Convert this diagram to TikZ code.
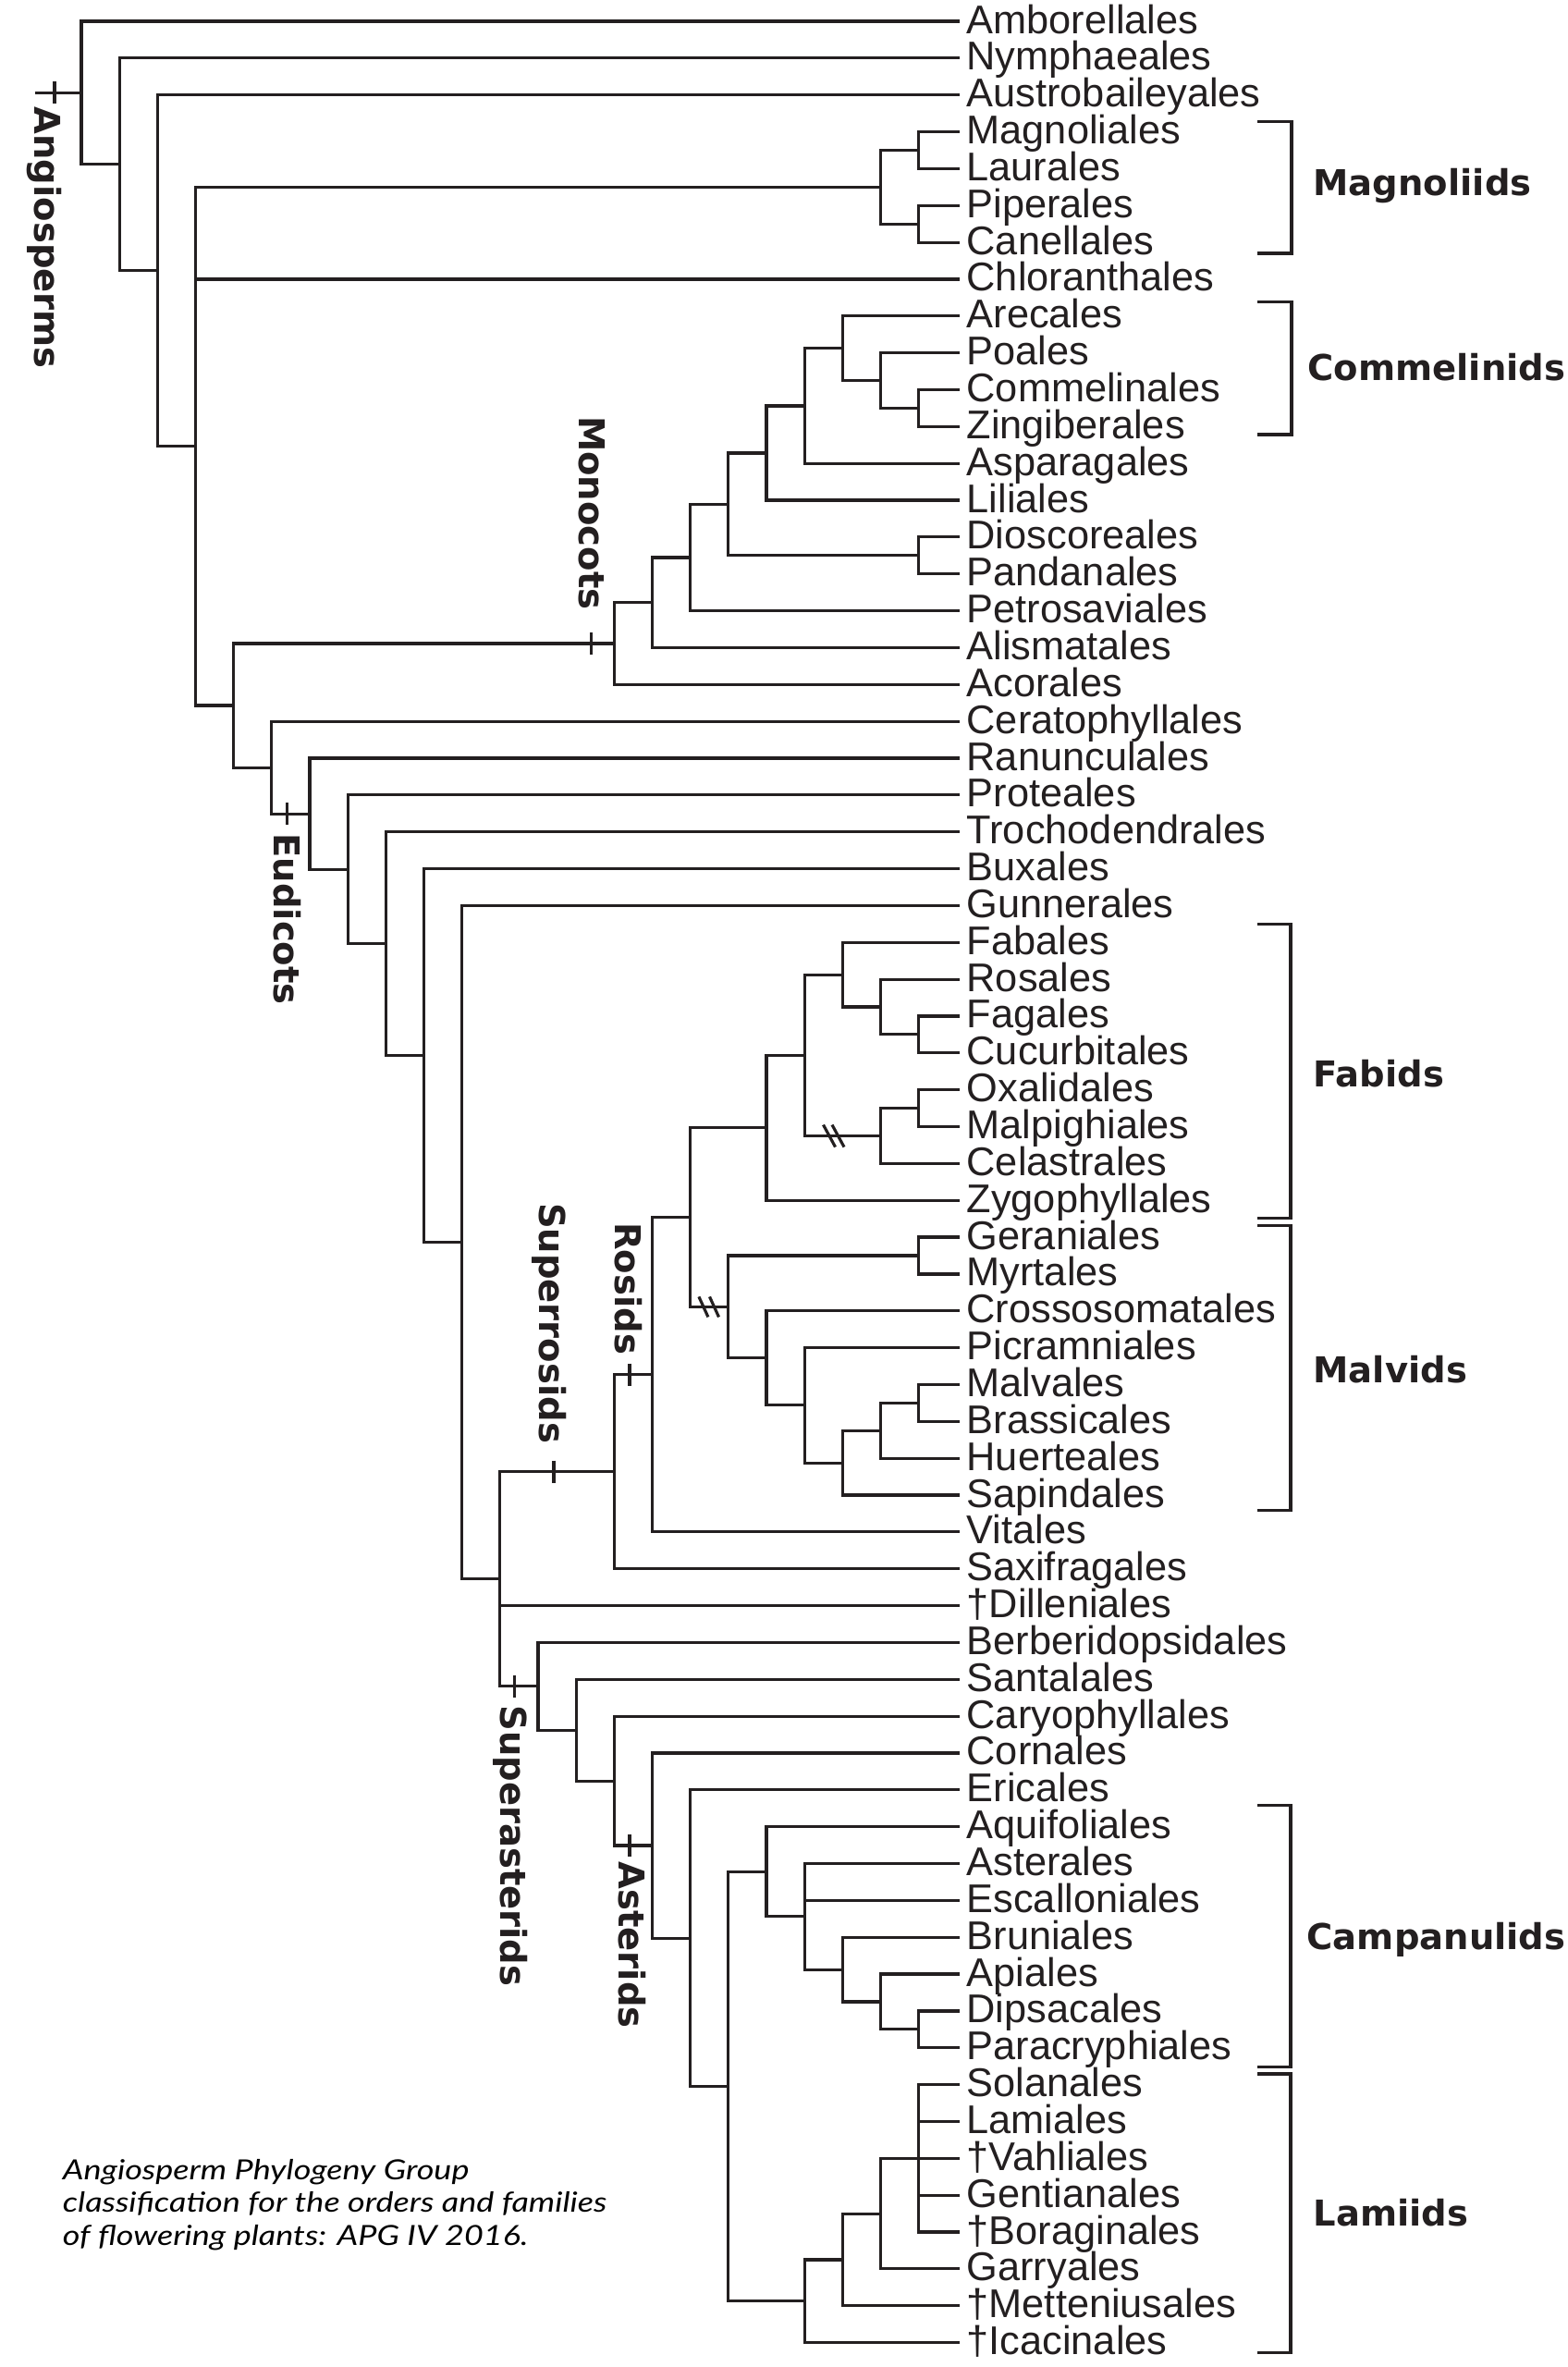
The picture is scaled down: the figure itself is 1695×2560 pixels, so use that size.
\documentclass[tikz,border=0pt]{standalone}
\usepackage{fontspec}
\newfontfamily\leaffont{Liberation Sans}
\newfontfamily\cladefont{DejaVu Sans}
\newfontfamily\capfont{Lato}
\definecolor{ink}{HTML}{231F20}
\tikzset{
 tree/.style={draw=ink, line width=0.95pt},
 leaf/.style={anchor=west, inner xsep=2.1pt, inner ysep=0pt, text height=9.3pt, text depth=1.5pt, font=\leaffont\fontsize{13}{15}\selectfont, text=ink},
 clade/.style={inner sep=0pt, text height=8.42pt, text depth=0pt, font=\cladefont\bfseries\fontsize{11.55}{13}\selectfont, text=ink},
 rotclade/.style={clade, rotate=-90},
 tickmark/.style={draw=ink, line width=0.95pt},
 bracketline/.style={draw=ink, line width=1pt},
 hashmark/.style={draw=ink, line width=0.95pt},
 captext/.style={anchor=base west, inner sep=0pt, xscale=1.2, font=\capfont\itshape\fontsize{9}{10}\selectfont, text=black},
}
\begin{document}
\begin{tikzpicture}[x=0.3pt, y=-0.3pt]
\fill[white] (0,0) rectangle (1695,2560);
\useasboundingbox (0,0) rectangle (1695,2560);

% leaves
\foreach \nm [count=\i from 0] in {Amborellales, Nymphaeales, Austrobaileyales, Magnoliales, Laurales, Piperales, Canellales, Chloranthales, Arecales, Poales, Commelinales, Zingiberales, Asparagales, Liliales, Dioscoreales, Pandanales, Petrosaviales, Alismatales, Acorales, Ceratophyllales, Ranunculales, Proteales, Trochodendrales, Buxales, Gunnerales, Fabales, Rosales, Fagales, Cucurbitales, Oxalidales, Malpighiales, Celastrales, Zygophyllales, Geraniales, Myrtales, Crossosomatales, Picramniales, Malvales, Brassicales, Huerteales, Sapindales, Vitales, Saxifragales, †Dilleniales, Berberidopsidales, Santalales, Caryophyllales, Cornales, Ericales, Aquifoliales, Asterales, Escalloniales, Bruniales, Apiales, Dipsacales, Paracryphiales, Solanales, Lamiales, †Vahliales, Gentianales, †Boraginales, Garryales, †Metteniusales, †Icacinales}
  \node[leaf] (l\i) at (1038,{23+39.85*\i}) {\nm};

% internal nodes
\coordinate (rootstem) at (37.5,100.39);
\coordinate (n0) at (88,100.39);
\coordinate (n1) at (129.17,177.775);
\coordinate (n2) at (170.34,292.7);
\coordinate (n3) at (211.51,482.70);
\coordinate (mag) at (952.57,202.325);
\coordinate (mA) at (993.74,162.475);
\coordinate (mB) at (993.74,242.175);
\coordinate (n4) at (252.68,763.07);
\coordinate (mono) at (664.38,696.014);
\coordinate (mo15) at (705.55,651.727);
\coordinate (mo16) at (746.72,603.004);
\coordinate (mo17) at (787.89,545.409);
\coordinate (dp) at (993.74,600.825);
\coordinate (mo18) at (829.06,489.992);
\coordinate (mo19) at (870.23,438.934);
\coordinate (com) at (911.4,376.669);
\coordinate (cP) at (952.57,411.538);
\coordinate (cZ) at (993.74,441.425);
\coordinate (n5) at (293.85,830.135);
\coordinate (n6) at (335.02,880.12);
\coordinate (n7) at (376.19,940.24);
\coordinate (n8) at (417.36,1020.63);
\coordinate (n9) at (458.53,1141.56);
\coordinate (n10) at (499.7,1343.57);
\coordinate (n11) at (540.87,1707.74);
\coordinate (srs) at (664.38,1591.705);
\coordinate (ros) at (705.55,1486.709);
\coordinate (r16) at (746.72,1316.568);
\coordinate (fab) at (829.06,1219.745);
\coordinate (f19) at (870.23,1141.291);
\coordinate (fF) at (911.4,1054.119);
\coordinate (fR) at (952.57,1088.988);
\coordinate (fFC) at (993.74,1118.875);
\coordinate (com2) at (952.57,1228.463);
\coordinate (fOM) at (993.74,1198.575);
\coordinate (mal) at (787.89,1413.392);
\coordinate (mGM) at (993.74,1357.975);
\coordinate (m18) at (829.06,1468.808);
\coordinate (m19) at (870.23,1519.866);
\coordinate (m20) at (911.4,1582.131);
\coordinate (m21) at (952.57,1547.263);
\coordinate (mMB) at (993.74,1517.375);
\coordinate (sas) at (582.04,1823.78);
\coordinate (a13) at (623.21,1871.16);
\coordinate (a14) at (664.38,1926.071);
\coordinate (ast) at (705.55,1996.042);
\coordinate (a16) at (746.72,2096.134);
\coordinate (a17) at (787.89,2256.468);
\coordinate (camp) at (829.06,2024.217);
\coordinate (c19) at (870.23,2072.784);
\coordinate (c20) at (911.4,2130.069);
\coordinate (c21) at (952.57,2164.938);
\coordinate (cDP) at (993.74,2194.825);
\coordinate (lam) at (870.23,2488.719);
\coordinate (la20) at (911.4,2443.888);
\coordinate (la21) at (952.57,2394.075);
\coordinate (la22) at (993.74,2334.3);

% branches
\draw[tree] (rootstem) -- (n0);
\foreach \p/\c in {n0/l0.west, n0/n1, n1/l1.west, n1/n2, n2/l2.west, n2/n3,
  n3/mag, n3/l7.west, n3/n4, mag/mA, mag/mB, mA/l3.west, mA/l4.west, mB/l5.west, mB/l6.west,
  n4/mono, n4/n5, mono/mo15, mono/l18.west, mo15/mo16, mo15/l17.west, mo16/mo17, mo16/l16.west,
  mo17/mo18, mo17/dp, dp/l14.west, dp/l15.west, mo18/mo19, mo18/l13.west, mo19/com, mo19/l12.west,
  com/l8.west, com/cP, cP/l9.west, cP/cZ, cZ/l10.west, cZ/l11.west,
  n5/l19.west, n5/n6, n6/l20.west, n6/n7, n7/l21.west, n7/n8, n8/l22.west, n8/n9,
  n9/l23.west, n9/n10, n10/l24.west, n10/n11,
  n11/srs, n11/l43.west, n11/sas, srs/ros, srs/l42.west, ros/r16, ros/l41.west, r16/fab, r16/mal,
  fab/f19, fab/l32.west, f19/fF, f19/com2, fF/l25.west, fF/fR, fR/l26.west, fR/fFC,
  fFC/l27.west, fFC/l28.west, com2/fOM, com2/l31.west, fOM/l29.west, fOM/l30.west,
  mal/mGM, mal/m18, mGM/l33.west, mGM/l34.west, m18/l35.west, m18/m19, m19/l36.west, m19/m20,
  m20/m21, m20/l40.west, m21/mMB, m21/l39.west, mMB/l37.west, mMB/l38.west,
  sas/l44.west, sas/a13, a13/l45.west, a13/a14, a14/l46.west, a14/ast, ast/l47.west, ast/a16,
  a16/l48.west, a16/a17, a17/camp, a17/lam, camp/l49.west, camp/c19,
  c19/l50.west, c19/l51.west, c19/c20, c20/l52.west, c20/c21, c21/l53.west, c21/cDP,
  cDP/l54.west, cDP/l55.west, lam/la20, lam/l63.west, la20/la21, la20/l62.west,
  la21/la22, la21/l61.west, la22/l56.west, la22/l57.west, la22/l58.west, la22/l59.west, la22/l60.west}
  \draw[tree] (\p) |- (\c);

% ticks
\draw[tickmark] (59,88.4) -- (59,112.4);
\draw[tickmark] (310.7,868.1) -- (310.7,892.1);
\draw[tickmark] (639.3,684) -- (639.3,708);
\draw[tickmark] (681,1474.7) -- (681,1498.7);
\draw[tickmark] (599,1579.7) -- (599,1603.7);
\draw[tickmark] (556.6,1811.8) -- (556.6,1835.8);
\draw[tickmark] (681,1984) -- (681,2008);

% hash marks
\draw[hashmark] (890.5,1216.5) -- (903.5,1240.5);
\draw[hashmark] (900,1216.5) -- (913,1240.5);
\draw[hashmark] (755.9,1402.4) -- (765.9,1424.4);
\draw[hashmark] (767.5,1402.4) -- (777.5,1424.4);

% rotated clade labels
\node[rotclade, anchor=west] (tAng) at (51.5,115) {Angiosperms};
\node[rotclade, anchor=west] (tEud) at (310.5,901) {Eudicots};
\node[rotclade, anchor=west] (tSast) at (556,1843.7) {Superasterids};
\node[rotclade, anchor=west] (tAst) at (683.4,2013) {Asterids};
\node[rotclade, anchor=east] (tMon) at (640.8,660) {Monocots};
\node[rotclade, anchor=east] (tRos) at (679.5,1465.6) {Rosids};
\node[rotclade, anchor=east] (tSros) at (597.3,1561.6) {Superrosids};

% brackets
\draw[bracketline] (1360,131.7) -| (1397,274) -- (1360,274);
\draw[bracketline] (1360,326.7) -| (1397,470) -- (1360,470);
\draw[bracketline] (1360,999.6) -| (1396,1317.3) -- (1360,1317.3);
\draw[bracketline] (1360,1325.6) -| (1396,1633.2) -- (1360,1633.2);
\draw[bracketline] (1360,1952.6) -| (1396,2235.4) -- (1360,2235.4);
\draw[bracketline] (1360,2243) -| (1396,2544.8) -- (1360,2544.8);

\node[clade, anchor=west] (tMag) at (1420,197.5) {Magnoliids};
\node[clade, anchor=west] (tCom) at (1414,397.5) {Commelinids};
\node[clade, anchor=west] (tFab) at (1420,1161.7) {Fabids};
\node[clade, anchor=west] (tMal) at (1420,1481.7) {Malvids};
\node[clade, anchor=west] (tCam) at (1413,2094.5) {Campanulids};
\node[clade, anchor=west] (tLam) at (1420,2393.5) {Lamiids};

% caption
\node[captext] (cap1) at (67,2357) {Angiosperm Phylogeny Group};
\node[captext] (cap2) at (67,2392.5) {classification for the orders and families};
\node[captext] (cap3) at (67,2428) {of flowering plants: APG IV 2016.};
\end{tikzpicture}
\end{document}
